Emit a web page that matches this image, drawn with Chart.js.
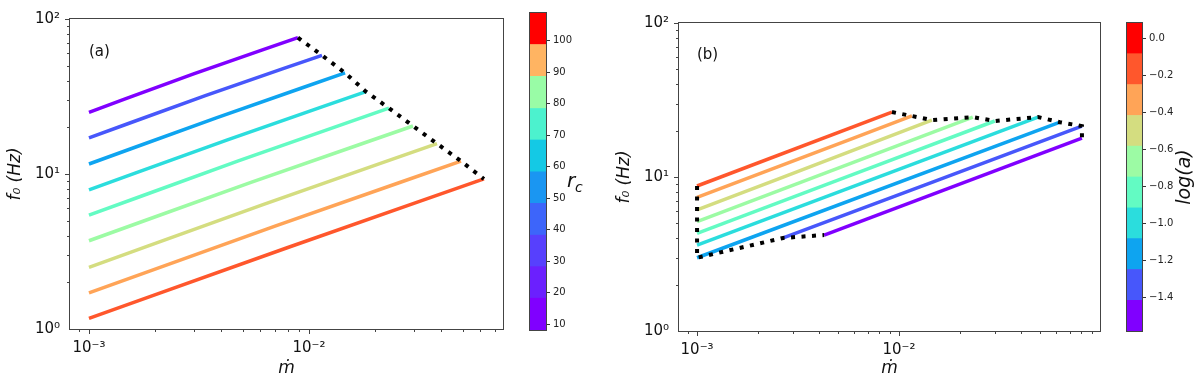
<!DOCTYPE html>
<html>
<head>
<meta charset="utf-8">
<script src="https://cdn.jsdelivr.net/npm/chart.js@4.4.1/dist/chart.umd.min.js"></script>
<style>
  html, body { margin: 0; padding: 0; background: #fff; }
  #wrap { position: relative; width: 1200px; height: 381px; overflow: hidden; }
  canvas { position: absolute; top: 0; }
</style>
</head>
<body>
<div id="wrap">
  <canvas id="mainA" width="520" height="381" style="left:0px"></canvas>
  <canvas id="barA" width="80" height="381" style="left:520px"></canvas>
  <canvas id="mainB" width="520" height="381" style="left:600px"></canvas>
  <canvas id="barB" width="80" height="381" style="left:1120px"></canvas>
</div>
<script>
// couleurs des courbes (rainbow, du violet au rouge-orange)
const lineColors = ['#8000ff', '#4757fb', '#0ea4f0', '#2bdddd', '#63fbc3', '#9cfba4', '#d4dd80', '#ffa457', '#ff572c'];

// panneau (a) : une courbe par r_c (haut = violet)
const mdotStartA = [1e-3, 1e-3, 1e-3, 1e-3, 1e-3, 1e-3, 1e-3, 1e-3, 1e-3];
const f0StartA   = [25.0, 17.1, 11.6, 7.9, 5.42, 3.71, 2.50, 1.71, 1.17];
const mdotMidA   = [2.99e-3, 3.38e-3, 3.82e-3, 4.26e-3, 4.81e-3, 5.45e-3, 6.18e-3, 7.01e-3, 7.90e-3];
const f0MidA     = [44.2, 32.0, 23.1, 16.6, 12.18, 8.82, 6.35, 4.61, 3.33];
const mdotEndA   = [8.91e-3, 0.01146, 0.01459, 0.01816, 0.0231, 0.0297, 0.0382, 0.0491, 0.0624];
const f0EndA     = [75.8, 58.3, 44.9, 34.0, 26.6, 20.4, 15.7, 12.1, 9.29];

// colorbar (a)
const rcBounds = [8.2, 18.3, 28.3, 38.3, 48.4, 58.4, 68.5, 78.5, 88.7, 98.8, 108.8];
const rcColors = ['#8000ff', '#6b20fe', '#5740fd', '#3d65fa', '#1a96f2', '#14c9e5', '#4cf2ce', '#99fca6', '#ffb462', '#ff0000'];
const rcTicks  = [10, 20, 30, 40, 50, 60, 70, 80, 90, 100];

// panneau (b) : une courbe par log(a), du violet (bas) au rouge-orange (haut)
const mdotStartB = [4.26e-3, 2.67e-3, 1e-3, 1e-3, 1e-3, 1e-3, 1e-3, 1e-3, 1e-3];
const f0StartB   = [4.20, 4.02, 2.99, 3.61, 4.31, 5.13, 6.11, 7.38, 8.74];
const mdotEndB   = [0.0805, 0.0805, 0.0627, 0.0488, 0.0298, 0.0232, 0.01455, 0.01159, 9.23e-3];
const f0EndB     = [17.9, 21.4, 22.7, 24.5, 23.1, 24.5, 23.4, 24.9, 26.4];

// colorbar (b)
const logaBounds = [-1.583, -1.417, -1.25, -1.083, -0.917, -0.75, -0.583, -0.417, -0.25, -0.083, 0.083];
const logaColors = ['#8000ff', '#4757fb', '#0ea4f0', '#2bdddd', '#63fbc3', '#9cfba4', '#d4dd80', '#ffa457', '#ff572c', '#ff0000'];
const logaTicks  = [-1.4, -1.2, -1.0, -0.8, -0.6, -0.4, -0.2, 0.0];

Chart.defaults.font.family = 'DejaVu Sans';
Chart.defaults.color = '#111';

const SUP = { '-': '⁻', '0': '⁰', '1': '¹', '2': '²', '3': '³', '4': '⁴' };
function sup(n) { return String(n).split('').map(c => SUP[c]).join(''); }
function isPow10(v) { const l = Math.log10(v); return Math.abs(l - Math.round(l)) < 1e-6; }
function logTicks(min, max) {
  const out = [];
  for (let e = Math.floor(Math.log10(min)); e <= Math.ceil(Math.log10(max)); e++) {
    for (let m = 1; m < 10; m++) {
      const v = m * Math.pow(10, e);
      if (v >= min * 0.9999 && v <= max * 1.0001) out.push(v);
    }
  }
  return out;
}

// cadre, petites graduations log et textes libres
const framePlugin = {
  id: 'frame',
  afterDraw(chart, args, opts) {
    const { ctx, chartArea: a } = chart;
    ctx.save();
    ctx.strokeStyle = '#444';
    ctx.lineWidth = 1;
    ctx.strokeRect(a.left - 0.5, a.top - 0.5, a.right - a.left + 1, a.bottom - a.top + 1);
    (opts.tickScales || []).forEach(id => {
      const s = chart.scales[id];
      s.ticks.forEach(t => {
        const len = isPow10(t.value) ? 5 : 3;
        const p = Math.round(s.getPixelForValue(t.value)) + 0.5;
        ctx.beginPath();
        if (s.isHorizontal()) {
          if (p < a.left || p > a.right) return;
          ctx.moveTo(p, a.bottom); ctx.lineTo(p, a.bottom + len);
        } else {
          if (p < a.top || p > a.bottom) return;
          ctx.moveTo(a.left, p); ctx.lineTo(a.left - len, p);
        }
        ctx.stroke();
      });
    });
    (opts.texts || []).forEach(t => {
      ctx.save();
      ctx.fillStyle = '#111';
      ctx.font = t.font;
      ctx.textAlign = t.align || 'left';
      ctx.textBaseline = t.base || 'alphabetic';
      ctx.translate(a.left + t.dx, a.top + t.dy);
      if (t.rot) ctx.rotate(t.rot);
      ctx.fillText(t.text, 0, 0);
      ctx.restore();
    });
    ctx.restore();
  }
};

function lineSets(xs, ys) {
  return xs.map((_, i) => ({
    data: ys[i],
    borderColor: lineColors[i],
    borderWidth: 3.5,
    pointRadius: 0,
    cubicInterpolationMode: 'monotone',
    order: 1
  }));
}

function dotted(points) {
  return { data: points, borderColor: '#000', borderWidth: 4, borderDash: [4, 6.5], pointRadius: 0, tension: 0, order: 0 };
}

function mainChart(id, datasets, xr, yw, xh, pad, titlePad, texts) {
  new Chart(document.getElementById(id), {
    type: 'line',
    data: { datasets },
    options: {
      responsive: false,
      animation: false,
      layout: { padding: pad },
      plugins: { legend: { display: false }, tooltip: { enabled: false }, frame: { tickScales: ['x', 'y'], texts } },
      scales: {
        x: {
          type: 'logarithmic', min: xr[0], max: xr[1],
          afterBuildTicks: s => { s.ticks = logTicks(xr[0], xr[1]).map(v => ({ value: v })); },
          afterFit: s => { s.height = xh; },
          grid: { display: false, drawTicks: false },
          border: { display: false },
          ticks: { autoSkip: false, maxRotation: 0, padding: 10, font: { size: 15 },
            callback: v => isPow10(v) ? '10' + sup(Math.round(Math.log10(v))) : '' },
          title: { display: true, text: 'ṁ', font: { size: 17, style: 'italic' }, padding: { top: 0, bottom: 2 } }
        },
        y: {
          type: 'logarithmic', min: 1, max: 100,
          afterBuildTicks: s => { s.ticks = logTicks(1, 100).map(v => ({ value: v })); },
          afterFit: s => { s.width = yw; },
          grid: { display: false, drawTicks: false },
          border: { display: false },
          ticks: { autoSkip: false, padding: 10, font: { size: 15 },
            callback: v => isPow10(v) ? '10' + sup(Math.round(Math.log10(v))) : '' },
          title: { display: true, text: 'f₀ (Hz)', font: { size: 17, style: 'italic' }, padding: { top: titlePad, bottom: 0 } }
        }
      }
    },
    plugins: [framePlugin]
  });
}

function colorbar(id, bounds, colors, tickVals, fmt, pad, w, texts) {
  new Chart(document.getElementById(id), {
    type: 'bar',
    data: {
      labels: [''],
      datasets: colors.map((c, i) => ({
        data: [[bounds[i], bounds[i + 1]]],
        backgroundColor: c, borderWidth: 0, grouped: false,
        barPercentage: 1, categoryPercentage: 1
      }))
    },
    options: {
      responsive: false,
      animation: false,
      layout: { padding: pad },
      plugins: { legend: { display: false }, tooltip: { enabled: false }, frame: { texts } },
      scales: {
        x: { display: false },
        y: {
          position: 'right', min: bounds[0], max: bounds[bounds.length - 1],
          afterBuildTicks: s => { s.ticks = tickVals.map(v => ({ value: v })); },
          afterFit: s => { s.width = w; },
          grid: { display: true, drawOnChartArea: false, drawTicks: true, tickLength: 4, color: '#333' },
          border: { display: false },
          ticks: { padding: 3, font: { size: 10 }, color: '#222', callback: fmt }
        }
      }
    },
    plugins: [framePlugin]
  });
}

// (a)
const dataA = lineSets(mdotStartA, mdotStartA.map((_, i) => [
  { x: mdotStartA[i], y: f0StartA[i] }, { x: mdotMidA[i], y: f0MidA[i] }, { x: mdotEndA[i], y: f0EndA[i] }
]));
dataA.push(dotted(mdotEndA.map((x, i) => ({ x, y: f0EndA[i] }))));
mainChart('mainA', dataA, [8.2e-4, 0.0762], 70, 52, { top: 13, right: 17, left: 0, bottom: 0 }, 5,
  [{ text: '(a)', dx: 19, dy: 33, font: '15px "DejaVu Sans"', base: 'middle' }]);

colorbar('barA', rcBounds, rcColors, rcTicks, v => String(v), { left: 10, top: 13, bottom: 51, right: 0 }, 54, [
  { text: 'r', dx: 37, dy: 174, font: 'italic 20px "DejaVu Sans"' },
  { text: 'c', dx: 45, dy: 179, font: 'italic 14px "DejaVu Sans"' }
]);

// (b)
const dataB = lineSets(mdotStartB, mdotStartB.map((_, i) => [
  { x: mdotStartB[i], y: f0StartB[i] }, { x: mdotEndB[i], y: f0EndB[i] }
]));
const leftIdx = [8, 7, 6, 5, 4, 3, 2, 1, 0];
dataB.push(dotted(leftIdx.map(i => ({ x: mdotStartB[i], y: f0StartB[i] }))));
dataB.push(dotted(leftIdx.map(i => ({ x: mdotEndB[i], y: f0EndB[i] }))));
mainChart('mainB', dataB, [8.14e-4, 0.0989], 79, 50, { top: 23, right: 20, left: 0, bottom: 0 }, 14,
  [{ text: '(b)', dx: 18, dy: 32, font: '15px "DejaVu Sans"', base: 'middle' }]);

colorbar('barB', logaBounds, logaColors, logaTicks, v => v.toFixed(1).replace('-', '−'),
  { left: 7, top: 23, bottom: 50, right: 0 }, 58, [
  { text: 'log(a)', dx: 58, dy: 154, font: 'italic 19px "DejaVu Sans"', rot: -Math.PI / 2, align: 'center', base: 'middle' }
]);
</script>
</body>
</html>
